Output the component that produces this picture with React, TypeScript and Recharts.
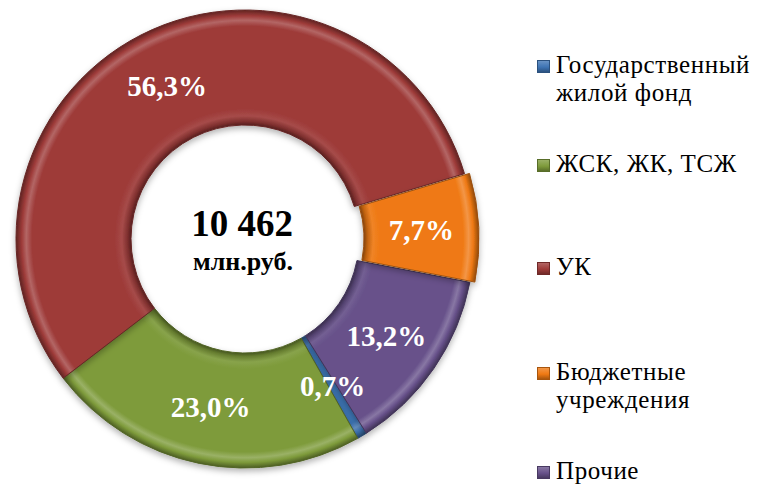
import React from 'react';
import { PieChart, Pie, Cell, Legend } from 'recharts';

// shares of the housing stock by manager type, %
const categories = ['Государственный жилой фонд', 'ЖСК, ЖК, ТСЖ', 'УК', 'Бюджетные учреждения', 'Прочие'];
const legendLines = [['Государственный', 'жилой фонд'], ['ЖСК, ЖК, ТСЖ'], ['УК'], ['Бюджетные', 'учреждения'], ['Прочие']];
const shares = [0.7, 23.0, 56.3, 7.7, 13.2];
const shareLabels = ['0,7%', '23,0%', '56,3%', '7,7%', '13,2%'];
const colors = ['#3E74B4', '#7E9B3B', '#9E3B39', '#EF7913', '#67518A'];
const explodedIndex = 3;
const totalValue = '10 462';
const totalUnit = 'млн.руб.';

const W = 757;
const H = 486;
const CX = 245;
const CY = 239;
const INNER = 114;
const OUTER = 229;
const START = -58;
const EXPLODE = 5;
const FONT = '"Liberation Serif", "Times New Roman", serif';
const RAD = Math.PI / 180;

const data = categories.map((name, i) => ({ name, value: shares[i], label: shareLabels[i] }));

const shade = (hex: string, f: number) => {
  const n = parseInt(hex.slice(1), 16);
  const ch = [(n >> 16) & 255, (n >> 8) & 255, n & 255].map(c =>
    f < 0 ? Math.round(c * (1 + f)) : Math.round(c + (255 - c) * f)
  );
  return `rgb(${ch.join(',')})`;
};

// offset of the exploded slice along its middle angle
const total = shares.reduce((a, b) => a + b, 0);
const before = shares.slice(0, explodedIndex).reduce((a, b) => a + b, 0);
const explodeMid = START - ((before + shares[explodedIndex] / 2) / total) * 360;
const DX = EXPLODE * Math.cos(explodeMid * RAD);
const DY = -EXPLODE * Math.sin(explodeMid * RAD);

const Bevel = ({ id, color, cx, cy }: { id: string; color: string; cx: number; cy: number }) => {
  const k = INNER / OUTER;
  return (
    <radialGradient id={id} gradientUnits="userSpaceOnUse" cx={cx} cy={cy} r={OUTER}>
      <stop offset={k} stopColor={shade(color, -0.45)} />
      <stop offset={k + 0.015} stopColor={shade(color, -0.2)} />
      <stop offset={k + 0.04} stopColor={shade(color, 0.08)} />
      <stop offset={k + 0.07} stopColor={color} />
      <stop offset={0.93} stopColor={color} />
      <stop offset={0.955} stopColor={shade(color, 0.22)} />
      <stop offset={0.975} stopColor={color} />
      <stop offset={1} stopColor={shade(color, -0.4)} />
    </radialGradient>
  );
};

const renderLabel = (only: 'rest' | 'exploded') => (props: any) => {
  const { cx, cy, midAngle, innerRadius, outerRadius, index } = props;
  if ((index === explodedIndex) !== (only === 'exploded')) return null;
  const r = (innerRadius + outerRadius) / 2;
  const x = cx + r * Math.cos(-midAngle * RAD);
  const y = cy + r * Math.sin(-midAngle * RAD);
  return (
    <text x={x} y={y} fill="#fff" textAnchor="middle" dominantBaseline="central"
      style={{ fontFamily: FONT, fontSize: 29, fontWeight: 'bold' }}>
      {shareLabels[index]}
    </text>
  );
};

const legendTops = [51, 150, 253, 358, 457];

const LegendBox = () => (
  <div style={{ position: 'relative', width: W, height: H }}>
    {legendLines.map((lines, i) => (
      <div key={i} style={{ position: 'absolute', left: 537, top: legendTops[i], display: 'flex', alignItems: 'flex-start' }}>
        <div style={{
          width: 13, height: 13, marginTop: 9, marginRight: 6,
          background: `linear-gradient(180deg, ${shade(colors[i], 0.25)}, ${colors[i]} 55%, ${shade(colors[i], -0.35)})`,
          boxShadow: `inset 0 0 0 1px ${shade(colors[i], -0.3)}`,
        }} />
        <div style={{ fontFamily: FONT, fontSize: 25, lineHeight: '28px', letterSpacing: 0.6, color: '#000' }}>
          {lines.map((l, j) => <div key={j} style={{ whiteSpace: 'nowrap' }}>{l}</div>)}
        </div>
      </div>
    ))}
  </div>
);

export default function App() {
  return (
    <div style={{ position: 'absolute', left: 0, top: 0, width: W, height: H, background: '#fff' }}>
      <PieChart width={W} height={H} margin={{ top: 0, right: 0, bottom: 0, left: 0 }}>
        <defs>
          <filter id="dropShadow" x="-10%" y="-10%" width="120%" height="125%">
            <feDropShadow dx="0" dy="3" stdDeviation="3" floodColor="#000" floodOpacity="0.3" />
          </filter>
          {colors.map((c, i) => (
            <Bevel key={i} id={`bevel-${i}`} color={c} cx={i === explodedIndex ? CX + DX : CX} cy={i === explodedIndex ? CY + DY : CY} />
          ))}
        </defs>
        <Pie
          data={data}
          dataKey="value"
          nameKey="name"
          cx={CX}
          cy={CY}
          innerRadius={INNER}
          outerRadius={OUTER}
          startAngle={START}
          endAngle={START - 360}
          isAnimationActive={false}
          labelLine={false}
          label={renderLabel('rest')}
        >
          {data.map((d, i) => (
            <Cell key={d.name}
              fill={i === explodedIndex ? 'none' : `url(#bevel-${i})`}
              stroke={i === explodedIndex ? 'none' : shade(colors[i], -0.35)}
              strokeWidth={1}
              filter="url(#dropShadow)" />
          ))}
        </Pie>
        <Pie
          data={data}
          dataKey="value"
          nameKey="name"
          cx={CX + DX}
          cy={CY + DY}
          innerRadius={INNER}
          outerRadius={OUTER}
          startAngle={START}
          endAngle={START - 360}
          isAnimationActive={false}
          labelLine={false}
          label={renderLabel('exploded')}
        >
          {data.map((d, i) => (
            <Cell key={d.name}
              fill={i === explodedIndex ? `url(#bevel-${i})` : 'none'}
              stroke={i === explodedIndex ? shade(colors[i], -0.35) : 'none'}
              strokeWidth={1}
              filter={i === explodedIndex ? 'url(#dropShadow)' : undefined} />
          ))}
        </Pie>
        <text x={242} y={236} textAnchor="middle" style={{ fontFamily: FONT, fontSize: 37, fontWeight: 'bold' }} fill="#000">
          {totalValue}
        </text>
        <text x={243} y={270} textAnchor="middle" style={{ fontFamily: FONT, fontSize: 26, fontWeight: 'bold' }} fill="#000">
          {totalUnit}
        </text>
        <Legend content={<LegendBox />} wrapperStyle={{ position: 'absolute', left: 0, top: 0, width: W, height: H }} />
      </PieChart>
    </div>
  );
}
